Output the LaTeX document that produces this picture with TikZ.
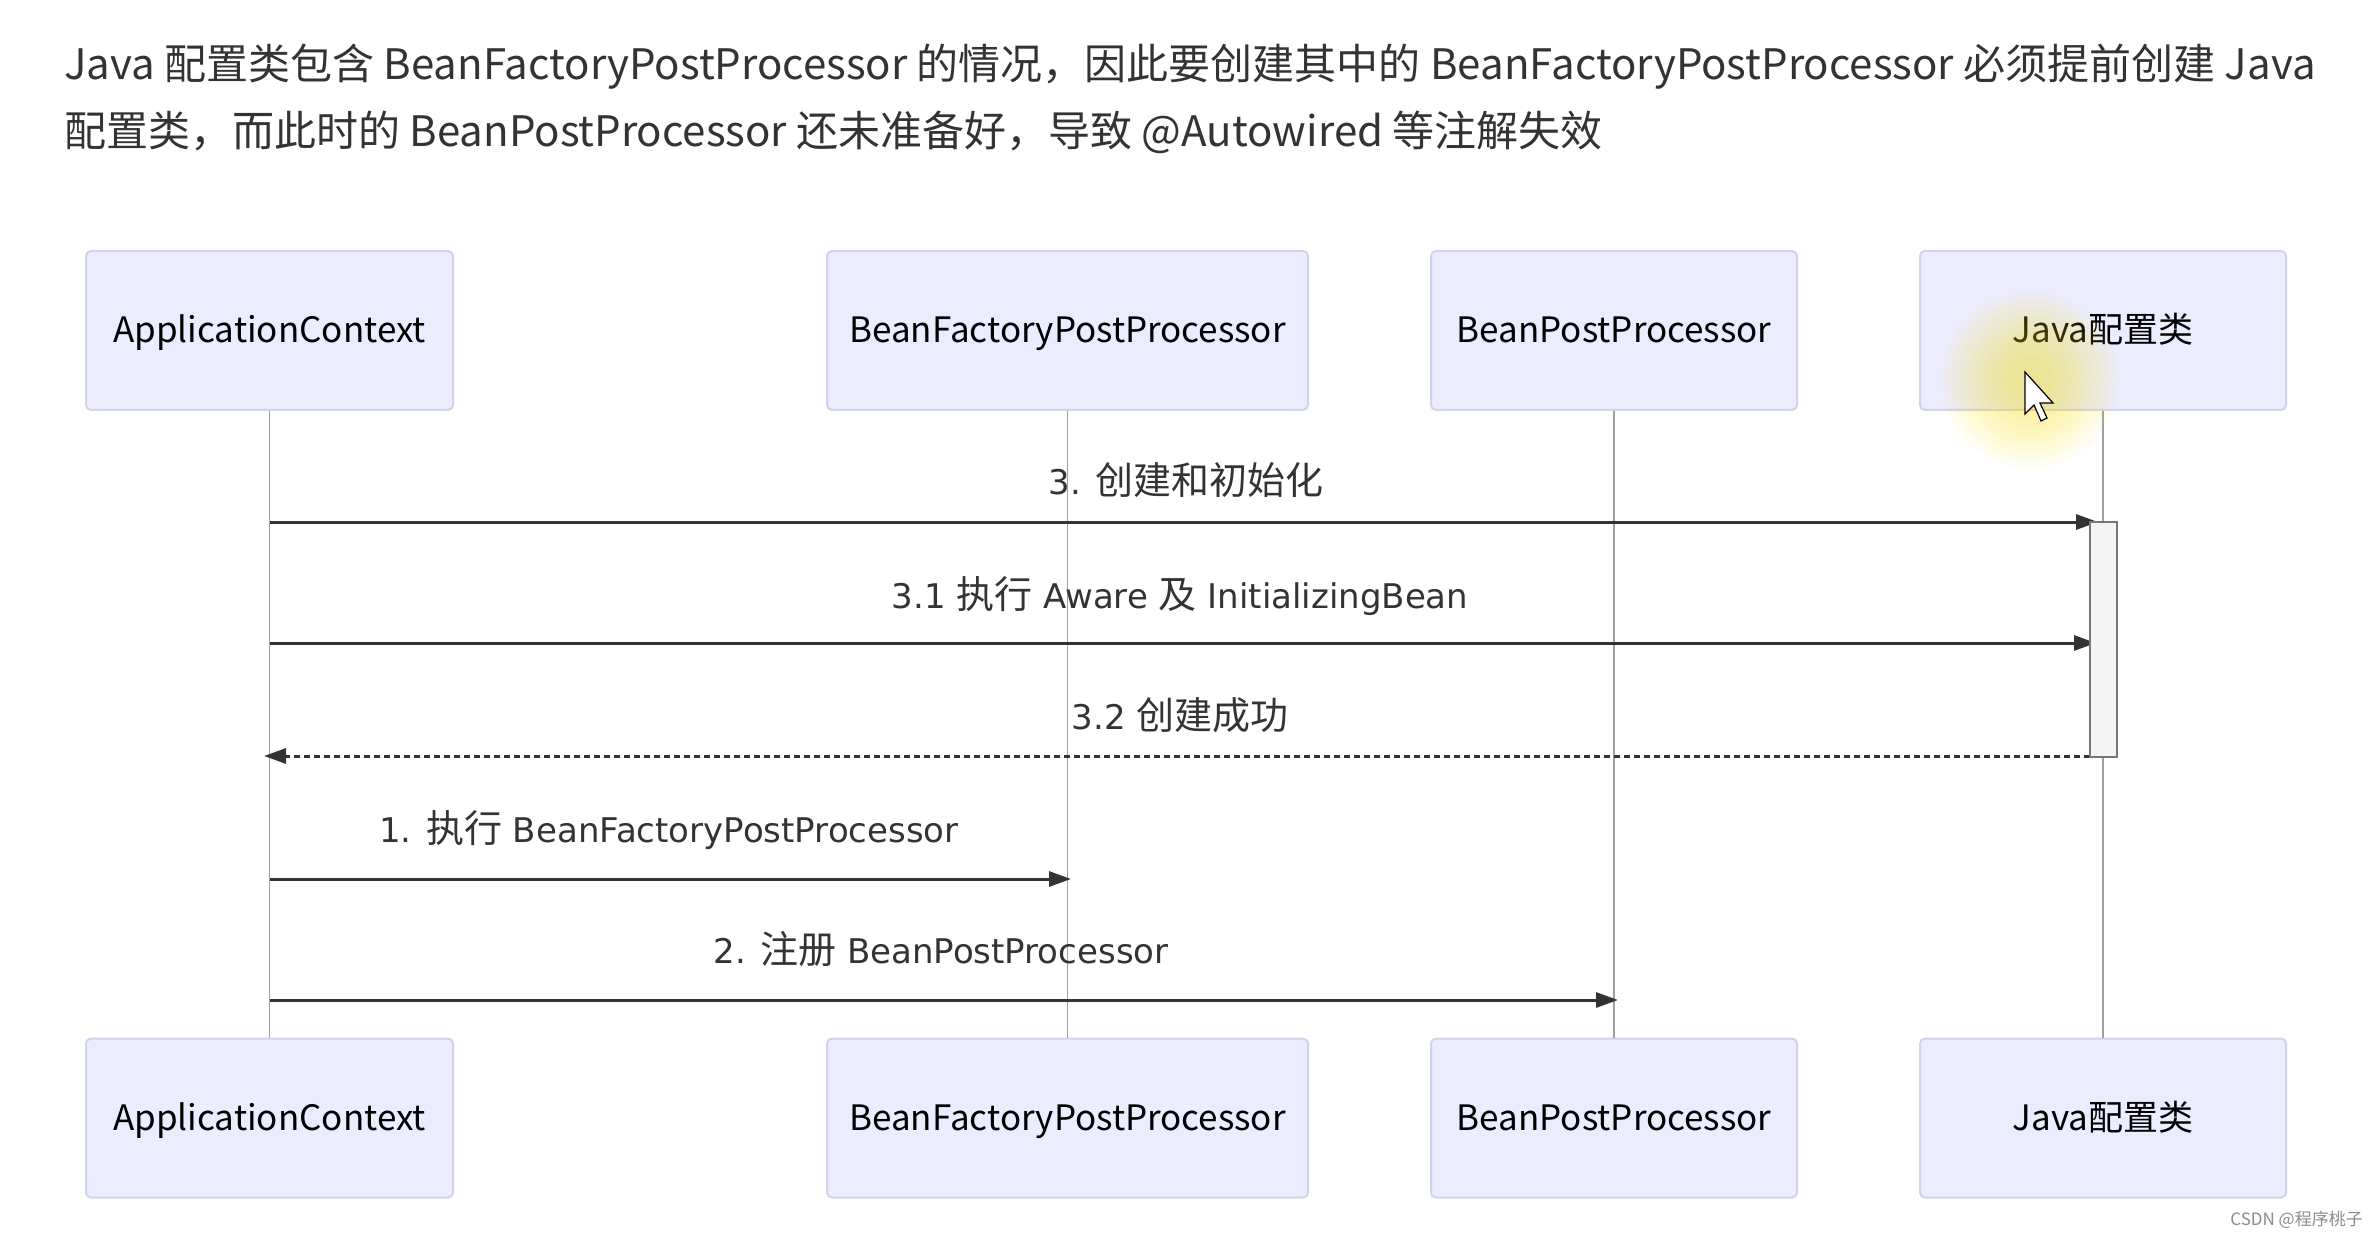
\documentclass[tikz,border=0pt]{standalone}
\usepackage{fontspec}
\setmainfont{Noto Sans CJK SC}
\newfontfamily\cjkf{Noto Sans CJK SC}
\newfontfamily\latf{DejaVu Sans}
\newcommand{\zh}[1]{{\cjkf\fontsize{38}{40}\selectfont #1}}
\usetikzlibrary{arrows.meta}
\definecolor{actfill}{HTML}{ECECFF}
\definecolor{actdraw}{HTML}{D2D2E8}
\definecolor{lifegray}{HTML}{A0A0A0}
\definecolor{msgc}{HTML}{333333}
\definecolor{textc}{HTML}{333333}
\definecolor{actvfill}{HTML}{F4F4F4}
\definecolor{actvdraw}{HTML}{777777}
\begin{document}
\begin{tikzpicture}[x=1pt,y=-1pt,
  actor/.style={draw=actdraw, fill=actfill, line width=2pt, rounded corners=5pt,
    minimum height=159pt, inner sep=0pt, text height=25pt, text depth=0pt,
    font=\fontsize{35}{40}\selectfont, text=black},
  life/.style={draw=lifegray, line width=1.5pt},
  msg/.style={draw=msgc, line width=3pt, -{Triangle[length=22pt,width=15pt]}},
  retmsg/.style={msg, dash pattern=on 6pt off 4pt},
  lbl/.style={font=\latf\fontsize{34}{40}\selectfont, text=textc, inner sep=0pt, anchor=base},
  head/.style={font=\fontsize{42}{48}\selectfont, text=textc, inner sep=0pt, anchor=base west},
  actv/.style={draw=actvdraw, fill=actvfill, line width=1.5pt, minimum width=27pt,
    minimum height=235pt, inner sep=0pt}]
\useasboundingbox (0,0) rectangle (2380,1238);
\fill[white] (0,0) rectangle (2380,1238);

% header text
\node[head] (h1) at (64,80) {Java 配置类包含 BeanFactoryPostProcessor 的情况，因此要创建其中的 BeanFactoryPostProcessor 必须提前创建 Java};
\node[head] (h2) at (64,147) {配置类，而此时的 BeanPostProcessor 还未准备好，导致 @Autowired 等注解失效};

% actors top
\node[actor, minimum width=367pt] (ac)  at (269.5,330.5) {ApplicationContext};
\node[actor, minimum width=481pt] (bf)  at (1067.5,330.5) {BeanFactoryPostProcessor};
\node[actor, minimum width=366pt] (bp)  at (1614,330.5) {BeanPostProcessor};
\node[actor, minimum width=366pt] (jc)  at (2103,330.5) {Java配置类};
% actors bottom
\node[actor, minimum width=367pt] (acb) at (269.5,1118) {ApplicationContext};
\node[actor, minimum width=481pt] (bfb) at (1067.5,1118) {BeanFactoryPostProcessor};
\node[actor, minimum width=366pt] (bpb) at (1614,1118) {BeanPostProcessor};
\node[actor, minimum width=366pt] (jcb) at (2103,1118) {Java配置类};

% lifelines
\draw[life] (ac.south) -- (acb.north);
\draw[life] (bf.south) -- (bfb.north);
\draw[life] (bp.south) -- (bpb.north);
\draw[life] (jc.south) -- (jcb.north);

% message end points
\coordinate (a3)  at (269.5,522);
\coordinate (j3)  at (2098,522);
\coordinate (a31) at (269.5,643);
\coordinate (j31) at (2096,643);
\coordinate (a32) at (264,756);
\coordinate (j32) at (2090,756);
\coordinate (a1)  at (269.5,879);
\coordinate (f1)  at (1071,879);
\coordinate (a2)  at (269.5,1000);
\coordinate (p2)  at (1618,1000);

\draw[msg] (a3) -- (j3);
\draw[msg] (a31) -- (j31);
\draw[retmsg] (j32) -- (a32);
\draw[msg] (a1) -- (f1);
\draw[msg] (a2) -- (p2);

% activation
\node[actv] (act) at (2103.5,639.5) {};

% labels
\node[lbl] (l3)  at (1186,494.5) {3. \zh{创建和初始化}};
\node[lbl] (l31) at (1180,608.5) {3.1 \zh{执行} Aware \zh{及} InitializingBean};
\node[lbl] (l32) at (1180,729.5) {3.2 \zh{创建成功}};
\node[lbl] (l1)  at (669,842.5) {1. \zh{执行} BeanFactoryPostProcessor};
\node[lbl] (l2)  at (941,963.5) {2. \zh{注册} BeanPostProcessor};

% highlight glow and cursor
\foreach \r in {88,80,...,24} {
  \fill[yellow!85!orange, opacity=0.055] (2030,380) circle (\r);
}
\draw[black, line width=1.2pt, fill=white, line join=miter]
  (2025,372) -- (2025,414) -- (2034,405) -- (2041,421) -- (2047,418) -- (2040,403) -- (2053,403) -- cycle;

% watermark
\node[font=\fontsize{17}{20}\selectfont, text=black!45, inner sep=0pt, anchor=east] (wm) at (2363,1220) {CSDN @程序桃子};
\end{tikzpicture}
\end{document}
